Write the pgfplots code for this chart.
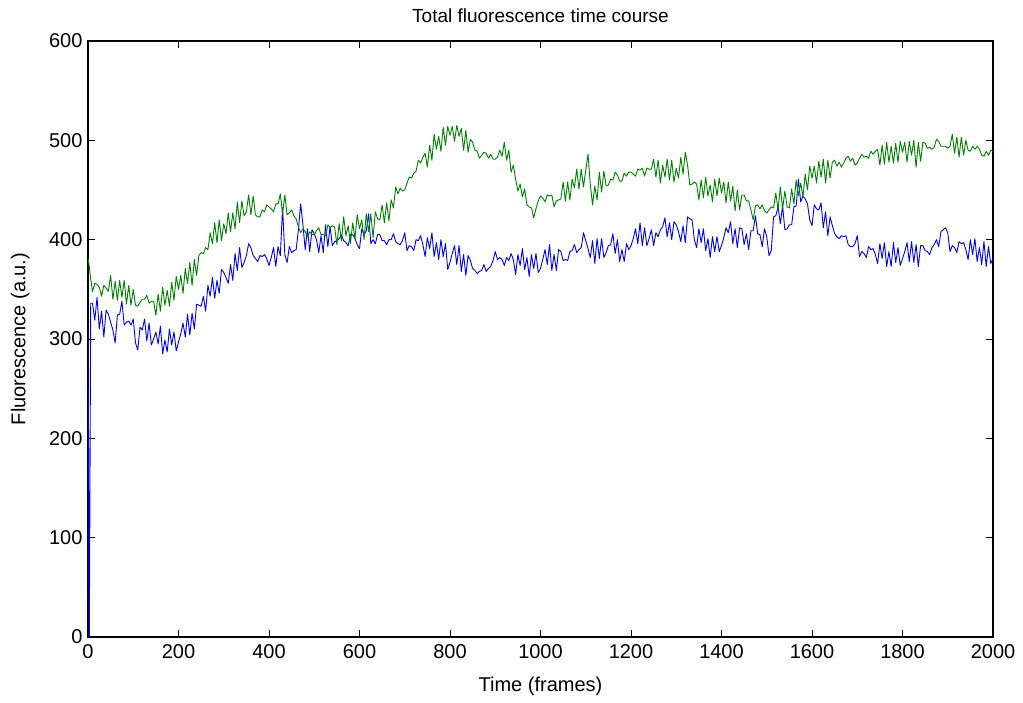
\documentclass[border=0pt]{standalone}
\usepackage{fontspec}
\setmainfont{Liberation Sans}
\usepackage{pgfplots}
\usepackage{pgfplotstable}
\pgfplotsset{compat=1.18}

% frame, blue channel total, green channel total
\pgfplotstableread{
x b g
0 320 382
3 0 372
6 336 360
10 336 348
15 319 356
20 342 355
25 310 352
30 328 343
35 302 354
40 329 351
45 325 348
50 317 364
55 309 340
60 296 358
65 324 339
70 325 359
75 338 342
80 314 359
85 317 335
90 318 354
95 314 334
100 320 350
105 296 334
110 289 333
115 312 337
120 309 340
125 320 340
130 298 344
135 316 336
140 294 338
145 300 338
150 307 324
155 295 345
160 313 328
165 285 352
170 299 334
175 287 349
180 310 333
185 294 357
190 307 339
195 288 363
200 297 350
205 305 364
210 316 346
215 302 371
220 325 356
225 304 377
230 326 354
235 310 380
240 335 364
245 334 384
250 333 387
255 343 386
260 328 392
265 354 390
270 343 407
275 362 396
280 341 417
285 359 397
290 346 420
295 370 399
300 367 416
305 362 406
310 356 427
315 375 408
320 359 427
325 386 411
330 369 438
335 392 417
340 372 439
345 377 424
350 384 428
355 396 445
360 392 425
365 384 444
370 381 425
375 378 423
380 384 423
385 383 430
390 385 428
395 381 435
400 374 433
405 382 431
410 392 428
415 373 436
420 393 436
425 384 446
430 432 426
435 385 445
440 377 425
445 393 427
450 387 430
455 389 424
460 390 421
465 410 413
470 436 407
475 415 411
480 390 408
485 411 403
490 388 408
495 410 405
500 406 405
505 400 409
510 387 412
515 404 405
520 387 405
525 415 404
530 393 415
535 413 412
540 394 414
545 398 413
550 399 395
555 401 416
560 405 399
565 399 423
570 397 404
575 394 414
580 405 396
585 405 417
590 401 401
595 395 425
600 391 411
605 411 420
610 405 400
615 409 426
620 426 408
625 396 426
630 400 402
635 396 428
640 405 421
645 405 420
650 399 435
655 399 417
660 395 437
665 400 419
670 400 440
675 406 432
680 398 453
685 396 446
690 395 452
695 399 449
700 407 450
705 389 457
710 394 463
715 393 462
720 389 467
725 400 469
730 399 480
735 404 477
740 395 483
745 383 487
750 402 473
755 391 495
760 407 480
765 383 506
770 397 491
775 380 504
780 400 489
785 383 513
790 396 495
795 370 514
800 377 505
805 386 514
810 394 499
815 375 515
820 394 504
825 368 512
830 385 490
835 364 510
840 384 488
845 379 501
850 371 498
855 369 490
860 366 489
865 368 482
870 369 485
875 375 488
880 368 487
885 371 482
890 373 486
895 379 481
900 388 481
905 380 483
910 382 490
915 380 484
920 374 498
925 382 480
930 379 490
935 386 468
940 380 475
945 365 461
950 385 449
955 374 456
960 391 443
965 370 451
970 382 435
975 363 433
980 385 432
985 371 422
990 386 431
995 367 439
1000 371 444
1005 380 442
1010 390 438
1015 375 445
1020 395 444
1025 369 445
1030 385 433
1035 369 439
1040 390 440
1045 388 441
1050 379 458
1055 380 439
1060 379 458
1065 388 440
1070 389 461
1075 395 452
1080 387 471
1085 390 451
1090 392 471
1095 407 453
1100 399 470
1105 391 486
1110 382 456
1115 399 435
1120 376 454
1125 401 440
1130 381 468
1135 401 448
1140 382 469
1145 387 454
1150 394 455
1155 395 461
1160 406 460
1165 386 468
1170 400 465
1175 378 459
1180 390 459
1185 378 467
1190 396 464
1195 390 468
1200 394 468
1205 401 466
1210 411 464
1215 396 471
1220 417 470
1225 394 472
1230 412 464
1235 394 472
1240 401 471
1245 410 471
1250 394 481
1255 407 463
1260 403 480
1265 410 457
1270 413 475
1275 422 463
1280 403 481
1285 417 460
1290 400 480
1295 418 458
1300 415 472
1305 408 462
1310 398 483
1315 414 466
1320 397 488
1325 423 475
1330 421 455
1335 420 456
1340 400 458
1345 392 456
1350 411 440
1355 397 460
1360 411 442
1365 389 463
1370 401 444
1375 382 455
1380 403 438
1385 388 461
1390 403 444
1395 388 462
1400 394 447
1405 402 458
1410 412 437
1415 407 458
1420 418 439
1425 396 454
1430 411 429
1435 392 450
1440 412 430
1445 411 445
1450 395 445
1455 406 439
1460 390 439
1465 409 430
1470 409 420
1475 424 434
1480 406 435
1485 405 431
1490 393 435
1495 411 429
1500 403 427
1505 384 430
1510 389 433
1515 423 432
1520 424 447
1525 433 430
1530 416 453
1535 434 431
1540 410 449
1545 411 433
1550 415 432
1555 415 451
1560 433 436
1565 434 460
1570 461 444
1575 438 457
1580 444 443
1585 441 466
1590 436 450
1595 420 474
1600 414 462
1605 435 474
1610 431 457
1615 430 479
1620 437 463
1625 412 481
1630 428 457
1635 404 480
1640 423 462
1645 414 478
1650 406 480
1655 403 474
1660 401 478
1665 404 473
1670 403 477
1675 404 482
1680 395 484
1685 393 479
1690 393 482
1695 396 475
1700 404 477
1705 383 482
1710 388 486
1715 386 483
1720 382 484
1725 393 482
1730 390 489
1735 391 486
1740 385 489
1745 376 491
1750 396 475
1755 381 495
1760 397 476
1765 373 498
1770 388 478
1775 373 494
1780 397 477
1785 377 497
1790 392 478
1795 374 499
1800 381 488
1805 388 498
1810 397 478
1815 378 499
1820 398 485
1825 377 500
1830 395 473
1835 373 498
1840 394 479
1845 394 498
1850 389 497
1855 388 492
1860 385 493
1865 392 491
1870 395 493
1875 400 501
1880 393 499
1885 408 494
1890 410 494
1895 412 494
1900 407 492
1905 388 494
1910 394 506
1915 392 487
1920 387 503
1925 398 483
1930 396 503
1935 397 485
1940 390 500
1945 380 490
1950 400 489
1955 385 494
1960 401 491
1965 378 494
1970 392 491
1975 375 485
1980 398 484
1985 373 489
1990 393 485
1995 376 490
2000 381 489
}\fluor

\begin{document}
\begin{tikzpicture}
\begin{axis}[
  scale only axis,
  width=905pt, height=596pt,
  xmin=0, xmax=2000, ymin=0, ymax=600,
  xtick={0,200,...,2000}, ytick={0,100,...,600},
  tick align=inside,
  major tick length=7pt,
  tick style={black, line width=0.8pt},
  axis line style={black, line width=1.3pt},
  tick label style={font=\fontsize{20}{24}\selectfont},
  /pgf/number format/assume math mode=true,
  /pgf/number format/1000 sep={},
  xticklabel style={yshift=-4pt},
  yticklabel style={xshift=-2pt},
  title={Total fluorescence time course},
  title style={font=\fontsize{19}{23}\selectfont, at={(axis description cs:0.5,1.032)}, anchor=center},
  xlabel={Time (frames)},
  xlabel style={font=\fontsize{20}{24}\selectfont, at={(axis description cs:0.5,-0.082)}, anchor=center},
  ylabel={Fluorescence (a.u.)},
  ylabel style={font=\fontsize{20}{24}\selectfont, at={(axis description cs:-0.075,0.5)}, anchor=center},
]
\addplot[color={rgb,255:red,0;green,0;blue,255}, line width=0.9pt, line join=round] table[x=x, y=b] {\fluor};
\addplot[color={rgb,255:red,0;green,128;blue,0}, line width=0.9pt, line join=round] table[x=x, y=g] {\fluor};
\end{axis}
\pgfresetboundingbox
\path ([shift={(-88pt,-65pt)}]current axis.south west) rectangle ([shift={(30pt,41pt)}]current axis.north east);
\end{tikzpicture}
\end{document}
